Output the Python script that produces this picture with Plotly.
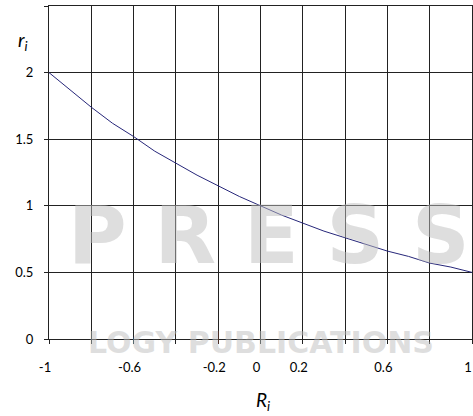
import plotly.graph_objects as go

# Data
R_values = [-1.0, -0.9, -0.8, -0.7, -0.6, -0.5, -0.4, -0.3, -0.2, -0.1, 0.0,
            0.1, 0.2, 0.3, 0.4, 0.5, 0.6, 0.7, 0.8, 0.9, 1.0]
r_values = [2.0, 1.87, 1.74, 1.62, 1.52, 1.41, 1.32, 1.23, 1.15, 1.07, 1.0,
            0.93, 0.87, 0.81, 0.76, 0.71, 0.66, 0.62, 0.57, 0.54, 0.5]

x_tickvals = [-1.0, -0.6, -0.2, 0.0, 0.2, 0.6, 1.0]
x_ticktext = ["-1", "-0.6", "-0.2", "0", "0.2", "0.6", "1"]
y_tickvals = [0, 0.5, 1, 1.5, 2]
y_ticktext = ["0", "0.5", "1", "1.5", "2"]

FONT = "Lato, 'Open Sans', sans-serif"
WM = "rgba(190,190,190,0.5)"
GRID = "#222222"

fig = go.Figure()
fig.add_trace(go.Scatter(x=R_values, y=r_values, mode="lines",
                         line=dict(color="#27277a", width=1),
                         showlegend=False, hoverinfo="skip"))

fig.update_layout(
    width=473, height=416,
    margin=dict(l=49, r=1, t=6, b=77),
    paper_bgcolor="white", plot_bgcolor="white",
    font=dict(family=FONT, size=13, color="black"),
    xaxis=dict(range=[-1, 1], tickvals=x_tickvals, ticktext=x_ticktext,
               showgrid=True, gridcolor=GRID, gridwidth=1,
               minor=dict(tick0=-1, dtick=0.2, showgrid=True, gridcolor=GRID,
                          gridwidth=1, ticks="outside", ticklen=4, tickcolor=GRID),
               zeroline=False, showline=True, linecolor=GRID, linewidth=1,
               mirror=True, ticks="outside", ticklen=4, tickcolor=GRID,
               ticklabelstandoff=12, ticklabelshift=-4, ticklabeloverflow="allow",
               tickfont=dict(size=13)),
    yaxis=dict(range=[0, 2.5], tickvals=y_tickvals, ticktext=y_ticktext,
               showgrid=True, gridcolor=GRID, gridwidth=1,
               minor=dict(tick0=0, dtick=0.5, showgrid=True, gridcolor=GRID,
                          gridwidth=1, ticks="outside", ticklen=4, tickcolor=GRID),
               zeroline=False, showline=True, linecolor=GRID, linewidth=1,
               mirror=True, ticks="outside", ticklen=4, tickcolor=GRID,
               ticklabelstandoff=8, tickfont=dict(size=13)),
    annotations=[
        dict(text="<b>P R E S S</b>", xref="paper", yref="paper", x=0.52, y=0.31,
             showarrow=False, font=dict(size=80, color=WM, family="DejaVu Sans"),
             xanchor="center", yanchor="middle"),
        dict(text="<b>LOGY PUBLICATIONS</b>", xref="paper", yref="paper", x=0.5, y=-0.01,
             showarrow=False, font=dict(size=30, color=WM, family="DejaVu Sans"),
             xanchor="center", yanchor="middle"),
        dict(text="<i>r</i><sub><i>i</i></sub>", xref="paper", yref="paper",
             x=-0.062, y=0.895, showarrow=False,
             font=dict(size=19, family=FONT), xanchor="center", yanchor="middle"),
        dict(text="<i>R</i><sub><i>i</i></sub>", xref="paper", yref="paper",
             x=0.505, y=-0.185, showarrow=False,
             font=dict(size=19, family=FONT), xanchor="center", yanchor="middle"),
    ],
)

fig.write_html("out.html", config={"displayModeBar": False},
               post_script="document.body.style.margin='0';")
